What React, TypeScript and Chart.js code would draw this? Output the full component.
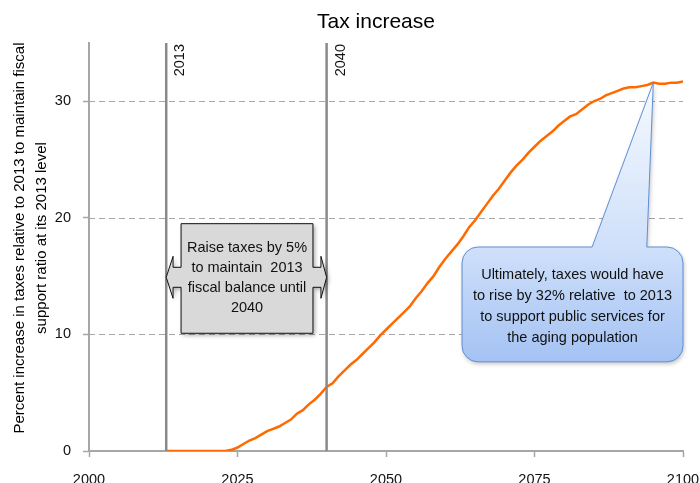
import React, { useEffect, useRef } from "react";
import { Chart, registerables } from "chart.js";

Chart.register(...registerables);

// ---------- data ----------
const years = [
  2013, 2014, 2015, 2016, 2017, 2018, 2019, 2020, 2021, 2022, 2023, 2024,
  2025, 2026, 2027, 2028, 2029, 2030, 2031, 2032, 2033, 2034, 2035, 2036,
  2037, 2038, 2039, 2040, 2041, 2042, 2043, 2044, 2045, 2046, 2047, 2048,
  2049, 2050, 2051, 2052, 2053, 2054, 2055, 2056, 2057, 2058, 2059, 2060,
  2061, 2062, 2063, 2064, 2065, 2066, 2067, 2068, 2069, 2070, 2071, 2072,
  2073, 2074, 2075, 2076, 2077, 2078, 2079, 2080, 2081, 2082, 2083, 2084,
  2085, 2086, 2087, 2088, 2089, 2090, 2091, 2092, 2093, 2094, 2095, 2096,
  2097, 2098, 2099, 2100,
];
const taxIncrease = [
  0, 0, 0, 0, 0, 0, 0, 0, 0, 0, 0, 0.1,
  0.3, 0.6, 0.9, 1.1, 1.4, 1.7, 1.9, 2.1, 2.4, 2.7, 3.2, 3.5,
  4.0, 4.4, 4.9, 5.5, 5.8, 6.4, 6.9, 7.4, 7.8, 8.3, 8.8, 9.3,
  9.9, 10.4, 10.9, 11.4, 11.9, 12.4, 13.1, 13.7, 14.4, 15.0, 15.8, 16.5,
  17.1, 17.7, 18.4, 19.2, 19.8, 20.5, 21.2, 21.9, 22.5, 23.2, 23.9, 24.5,
  25.0, 25.6, 26.1, 26.6, 27.0, 27.4, 27.9, 28.3, 28.7, 28.9, 29.3, 29.7,
  30.0, 30.2, 30.5, 30.7, 30.9, 31.1, 31.2, 31.2, 31.3, 31.4, 31.6, 31.5,
  31.5, 31.6, 31.6, 31.7,
];
const xTicks = [2000, 2025, 2050, 2075, 2100];
const yTicks = [0, 10, 20, 30];
const markerYears = [2013, 2040];
const titleText = "Tax increase";
const yAxisTitle = [
  "Percent increase in taxes relative to 2013 to maintain fiscal",
  "support ratio at its 2013 level",
];
const boxLines = ["Raise taxes by 5%", "to maintain  2013", "fiscal balance until", "2040"];
const calloutLines = [
  "Ultimately, taxes would have",
  "to rise by 32% relative  to 2013",
  "to support public services for",
  "the aging population",
];
const calloutYear = 2095;

// ---------- layout / style ----------
const FONT = "'Liberation Sans', Arial, Helvetica, sans-serif";
const AXIS_GRAY = "#a6a6a6";
const boxGeom = { left: 2015.5, right: 2037.7, top: 19.5, bottom: 10.1, mid: 14.9 };
const calloutGeom = { left: 2062.8, right: 2100, top: 17.5, bottom: 7.65, base1: 2084.7, base2: 2093.9 };

const overlayPlugin = {
  id: "overlay",
  beforeDatasetsDraw(chart: any) {
    const { ctx, chartArea: ca, scales } = chart;
    const y = scales.y;
    ctx.save();
    ctx.strokeStyle = AXIS_GRAY;
    ctx.lineWidth = 1;
    ctx.setLineDash([6, 4]);
    for (const v of yTicks) {
      if (v === 0) continue;
      const py = Math.round(y.getPixelForValue(v)) + 0.5;
      ctx.beginPath();
      ctx.moveTo(ca.left, py);
      ctx.lineTo(ca.right, py);
      ctx.stroke();
    }
    ctx.restore();
  },
  afterDatasetsDraw(chart: any) {
    const { ctx, chartArea: ca, scales } = chart;
    const x = scales.x;
    const y = scales.y;

    // vertical marker lines
    ctx.save();
    for (const yr of markerYears) {
      const px = x.getPixelForValue(yr);
      ctx.strokeStyle = "#8a8a8a";
      ctx.lineWidth = 2.5;
      ctx.beginPath();
      ctx.moveTo(px, ca.top);
      ctx.lineTo(px, ca.bottom);
      ctx.stroke();
      ctx.save();
      ctx.translate(px + 14, ca.top + 1);
      ctx.rotate(-Math.PI / 2);
      ctx.font = `14.5px ${FONT}`;
      ctx.fillStyle = "#111";
      ctx.textAlign = "right";
      ctx.textBaseline = "middle";
      ctx.fillText(String(yr), 0, 0);
      ctx.restore();
    }
    ctx.restore();

    // gray double-arrow box
    {
      const tipL = x.getPixelForValue(markerYears[0]);
      const tipR = x.getPixelForValue(markerYears[1]);
      const bl = x.getPixelForValue(boxGeom.left);
      const br = x.getPixelForValue(boxGeom.right);
      const bt = y.getPixelForValue(boxGeom.top);
      const bb = y.getPixelForValue(boxGeom.bottom);
      const cy = y.getPixelForValue(boxGeom.mid);
      const neckL = bl - 8;
      const neckR = br + 8;
      const sh = 10;
      const hh = 21;
      ctx.save();
      ctx.beginPath();
      ctx.moveTo(bl, bt);
      ctx.lineTo(br, bt);
      ctx.lineTo(br, cy - sh);
      ctx.lineTo(neckR, cy - sh);
      ctx.lineTo(neckR, cy - hh);
      ctx.lineTo(tipR, cy);
      ctx.lineTo(neckR, cy + hh);
      ctx.lineTo(neckR, cy + sh);
      ctx.lineTo(br, cy + sh);
      ctx.lineTo(br, bb);
      ctx.lineTo(bl, bb);
      ctx.lineTo(bl, cy + sh);
      ctx.lineTo(neckL, cy + sh);
      ctx.lineTo(neckL, cy + hh);
      ctx.lineTo(tipL, cy);
      ctx.lineTo(neckL, cy - hh);
      ctx.lineTo(neckL, cy - sh);
      ctx.lineTo(bl, cy - sh);
      ctx.closePath();
      ctx.shadowColor = "rgba(0,0,0,0.35)";
      ctx.shadowBlur = 4;
      ctx.shadowOffsetX = 2;
      ctx.shadowOffsetY = 2;
      ctx.fillStyle = "#d9d9d9";
      ctx.fill();
      ctx.shadowColor = "transparent";
      ctx.strokeStyle = "#111";
      ctx.lineWidth = 1;
      ctx.stroke();
      ctx.font = `14.5px ${FONT}`;
      ctx.fillStyle = "#111";
      ctx.textAlign = "center";
      ctx.textBaseline = "middle";
      const lh = 20;
      const cx = (bl + br) / 2;
      const cyText = (bt + bb) / 2;
      boxLines.forEach((t, i) => {
        ctx.fillText(t, cx, cyText + (i - (boxLines.length - 1) / 2) * lh);
      });
      ctx.restore();
    }

    // blue callout
    {
      const idx = years.indexOf(calloutYear);
      const tipX = x.getPixelForValue(calloutYear);
      const tipY = y.getPixelForValue(taxIncrease[idx]);
      const l = x.getPixelForValue(calloutGeom.left);
      const r = x.getPixelForValue(calloutGeom.right);
      const t = y.getPixelForValue(calloutGeom.top);
      const b = y.getPixelForValue(calloutGeom.bottom);
      const b1 = x.getPixelForValue(calloutGeom.base1);
      const b2 = x.getPixelForValue(calloutGeom.base2);
      const rad = 16;
      ctx.save();
      ctx.beginPath();
      ctx.moveTo(l + rad, t);
      ctx.lineTo(b1, t);
      ctx.lineTo(tipX, tipY);
      ctx.lineTo(b2, t);
      ctx.lineTo(r - rad, t);
      ctx.arcTo(r, t, r, t + rad, rad);
      ctx.lineTo(r, b - rad);
      ctx.arcTo(r, b, r - rad, b, rad);
      ctx.lineTo(l + rad, b);
      ctx.arcTo(l, b, l, b - rad, rad);
      ctx.lineTo(l, t + rad);
      ctx.arcTo(l, t, l + rad, t, rad);
      ctx.closePath();
      const g = ctx.createLinearGradient(0, tipY, 0, b);
      const f = (t - tipY) / (b - tipY);
      g.addColorStop(0, "#f6f9fe");
      g.addColorStop(f, "#cfe0fa");
      g.addColorStop(1, "#a4c2f3");
      ctx.shadowColor = "rgba(0,0,0,0.25)";
      ctx.shadowBlur = 4;
      ctx.shadowOffsetX = 1;
      ctx.shadowOffsetY = 2;
      ctx.fillStyle = g;
      ctx.fill();
      ctx.shadowColor = "transparent";
      ctx.strokeStyle = "#5f8fd3";
      ctx.lineWidth = 1;
      ctx.stroke();
      ctx.font = `14.5px ${FONT}`;
      ctx.fillStyle = "#111";
      ctx.textAlign = "center";
      ctx.textBaseline = "middle";
      const lh = 21;
      const cx = (l + r) / 2;
      const cyText = (t + b) / 2 + 2;
      calloutLines.forEach((s, i) => {
        ctx.fillText(s, cx, cyText + (i - (calloutLines.length - 1) / 2) * lh);
      });
      ctx.restore();
    }
  },
  afterDraw(chart: any) {
    const { ctx } = chart;
    ctx.save();
    ctx.fillStyle = "#000";
    ctx.font = `21px ${FONT}`;
    ctx.textAlign = "center";
    ctx.textBaseline = "middle";
    ctx.fillText(titleText, 376, 22);
    ctx.font = `15px ${FONT}`;
    ctx.translate(0, 238);
    ctx.rotate(-Math.PI / 2);
    ctx.fillText(yAxisTitle[0], 0, 20);
    ctx.fillText(yAxisTitle[1], 0, 42);
    ctx.restore();
  },
};

export default function App() {
  const ref = useRef<HTMLCanvasElement | null>(null);
  useEffect(() => {
    if (!ref.current) return;
    const chart = new Chart(ref.current, {
      type: "line",
      data: {
        datasets: [
          {
            label: "Tax increase",
            data: years.map((yr, i) => ({ x: yr, y: taxIncrease[i] })),
            borderColor: "#ff6a00",
            borderWidth: 2.5,
            pointRadius: 0,
            tension: 0,
            fill: false,
          },
        ],
      },
      options: {
        animation: false,
        responsive: false,
        devicePixelRatio: 1,
        layout: { padding: { top: 43, right: 17, left: 0, bottom: 0 } },
        plugins: { legend: { display: false }, title: { display: false }, tooltip: { enabled: false } },
        scales: {
          x: {
            type: "linear",
            min: 2000,
            max: 2100,
            afterBuildTicks: (s: any) => {
              s.ticks = xTicks.map((v) => ({ value: v }));
            },
            afterFit: (s: any) => {
              s.height = 32;
              s.paddingLeft = 0;
              s.paddingRight = 0;
            },
            ticks: {
              font: { family: FONT, size: 14.5 },
              color: "#111",
              padding: 14,
              maxRotation: 0,
              autoSkip: false,
              callback: (v: any) => String(v),
            },
            grid: { drawOnChartArea: false, drawTicks: true, tickLength: 6, tickColor: AXIS_GRAY, tickWidth: 1.5 },
            border: { color: AXIS_GRAY, width: 2 },
          },
          y: {
            type: "linear",
            min: 0,
            max: 35,
            afterBuildTicks: (s: any) => {
              s.ticks = yTicks.map((v) => ({ value: v }));
            },
            afterFit: (s: any) => {
              s.width = 89;
              s.paddingTop = 0;
              s.paddingBottom = 0;
            },
            ticks: {
              font: { family: FONT, size: 14.5 },
              color: "#111",
              padding: 12,
              autoSkip: false,
              callback: (v: any) => String(v),
            },
            grid: { drawOnChartArea: false, drawTicks: true, tickLength: 6, tickColor: AXIS_GRAY, tickWidth: 1.5 },
            border: { color: AXIS_GRAY, width: 2 },
          },
        },
      },
      plugins: [overlayPlugin],
    });
    return () => chart.destroy();
  }, []);
  return (
    <div style={{ position: "fixed", left: 0, top: 0, width: 700, height: 483, background: "#fff" }}>
      <canvas ref={ref} width={700} height={483} style={{ display: "block" }} />
    </div>
  );
}
